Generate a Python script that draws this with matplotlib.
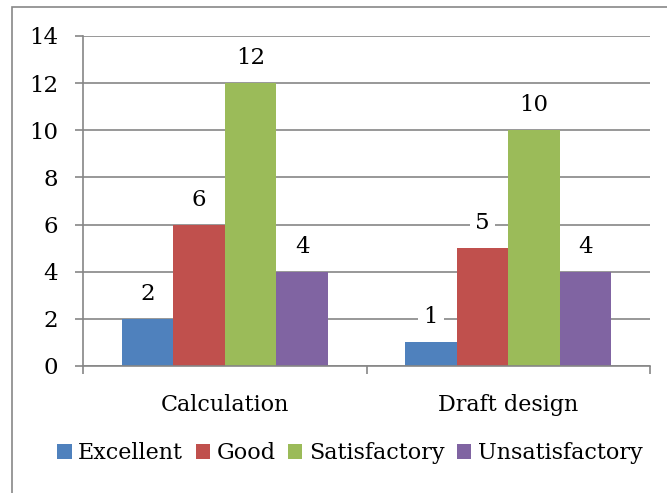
import matplotlib.pyplot as plt
import matplotlib.patches as patches
import numpy as np

categorias = ["Calculation", "Draft design"]
series = ["Excellent", "Good", "Satisfactory", "Unsatisfactory"]
valores = [
    [2, 1],    # Excellent
    [6, 5],    # Good
    [12, 10],  # Satisfactory
    [4, 4],    # Unsatisfactory
]
cores = ["#4F81BD", "#C0504D", "#9BBB59", "#8064A2"]
yticks = [0, 2, 4, 6, 8, 10, 12, 14]

plt.rcParams['font.family'] = ['DejaVu Serif']
W, H = 667, 493
fig = plt.figure(figsize=(W / 100, H / 100), dpi=100)

# borda externa do grafico (cortada a direita e embaixo)
fig.patches.append(patches.Rectangle((12 / W, -0.1), 2, 1.1 - 7 / H, transform=fig.transFigure,
                                     fill=False, edgecolor="#878787", linewidth=1.2))

ax = fig.add_axes([83 / W, 1 - 366 / H, (650 - 83) / W, (366 - 36) / H])
cinza = "#868686"

x = np.arange(len(categorias))
larg = 1 / (len(series) + 1.5)
for i, (nome, vals) in enumerate(zip(series, valores)):
    pos = x + (i - (len(series) - 1) / 2) * larg
    barras = ax.bar(pos, vals, larg, color=cores[i], label=nome, zorder=2)
    for b, v in zip(barras, vals):
        ax.annotate(str(v), (b.get_x() + b.get_width() / 2, v), xytext=(0, 25),
                    textcoords="offset pixels", ha="center", va="center", fontsize=16.5,
                    bbox=dict(facecolor="white", edgecolor="none", pad=4), zorder=3)

ax.set_ylim(0, 14)
ax.set_xlim(-0.5, len(categorias) - 0.5)
ax.set_yticks(yticks)
ax.yaxis.grid(True, color=cinza, linewidth=1.2, zorder=0)
ax.set_axisbelow(True)

ax.set_xticks([-0.5, 0.5, 1.5])
ax.set_xticklabels([])
ax.set_xticks(x, minor=True)
ax.set_xticklabels(categorias, minor=True, fontsize=16)
ax.tick_params(axis="x", which="minor", length=0, pad=20)
ax.tick_params(axis="x", which="major", length=6, color=cinza, width=1.2)
ax.tick_params(axis="y", length=6, color=cinza, width=1.2, labelsize=16.5, pad=12)

for lado in ["top", "right"]:
    ax.spines[lado].set_visible(False)
for lado in ["left", "bottom"]:
    ax.spines[lado].set_color(cinza)
    ax.spines[lado].set_linewidth(1.2)

fig.legend(loc="center", bbox_to_anchor=(350 / W, 1 - 453 / H), ncol=4, frameon=False,
           fontsize=16, handlelength=0.65, handleheight=0.65, handletextpad=0.3,
           columnspacing=0.55, borderpad=0)

plt.savefig("out.png", dpi=100)
